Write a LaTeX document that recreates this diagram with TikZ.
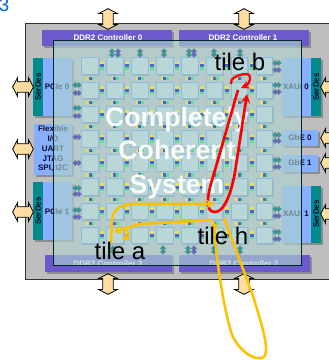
\documentclass[tikz,border=0pt]{standalone}
\usepackage{fontspec}
\setmainfont{Liberation Sans}
\usetikzlibrary{shapes.arrows,shadows}

\definecolor{chipgrey}{RGB}{190,190,190}
\definecolor{ddrpurple}{RGB}{106,90,205}
\definecolor{blockblue}{RGB}{135,175,255}
\definecolor{serdesteal}{RGB}{0,140,140}
\definecolor{overlayteal}{RGB}{175,212,208}
\definecolor{tilefill}{RGB}{205,222,228}
\definecolor{tileline}{RGB}{90,150,255}
\definecolor{padorange}{RGB}{255,221,160}
\definecolor{pathyellow}{RGB}{255,192,0}
\definecolor{linkyellow}{RGB}{235,235,70}
\definecolor{linkblue}{RGB}{60,75,200}
\definecolor{linkgreen}{RGB}{60,235,140}
\definecolor{labelnavy}{RGB}{10,10,50}

\tikzset{
	padarrow/.style={double arrow, draw=black, line width=0.6pt, fill=padorange, inner xsep=0pt, inner ysep=3.7pt, minimum height=15.5pt, double arrow head extend=3pt, double arrow tip angle=125},
	portarrow/.style={double arrow, draw=black!50, line width=0.2pt, fill=#1, fill opacity=0.75, inner xsep=0pt, inner ysep=1.2pt, minimum height=6.5pt, double arrow head extend=0.9pt},
	tilebox/.style={draw=tileline, line width=0.5pt, fill=tilefill, inner sep=0pt, minimum size=12.4pt, drop shadow={shadow xshift=1pt, shadow yshift=-1pt, fill=black!45, opacity=1}},
	ddrlabel/.style={text=white, font=\bfseries\fontsize{6}{7}\selectfont, inner sep=0pt},
	blocklabel/.style={text=labelnavy, font=\bfseries\fontsize{6}{7.3}\selectfont, inner sep=0pt, align=center},
	tilelabel/.style={text=black, font=\fontsize{18}{20}\selectfont, inner sep=0pt},
	redpath/.style={draw=red, line width=2pt, -stealth},
	yellowpath/.style={draw=pathyellow, line width=1.9pt, -stealth}
}

\newcommand{\chipblock}[5]{
	\fill[black!45] (#1+2,#2+2) rectangle (#3+2,#4+2);
	\fill[#5] (#1,#2) rectangle (#3,#4);
}

\begin{document}
\begin{tikzpicture}[x=0.75pt,y=-0.75pt]
	\useasboundingbox (0,0) rectangle (328,360);
	
	%NUMERO
	\node[anchor=east, inner sep=0pt, text=blue!60!cyan!90!black, font=\fontsize{14}{14}\selectfont] (pagenum) at (9.5,5) {3};
	
	%CHIP
	\draw[line width=0.75pt, fill=chipgrey, draw=black!80] (25.5,23.5) rectangle (340,279.5);
	
	%BLOCCHI
	\chipblock{42}{30}{172}{46}{ddrpurple}
	\chipblock{179}{30}{309}{46}{ddrpurple}
	\chipblock{45}{255}{172}{272}{ddrpurple}
	\chipblock{179}{255}{310}{272}{ddrpurple}
	\chipblock{33}{58}{43}{116}{serdesteal}
	\chipblock{43}{58}{72}{116}{blockblue}
	\chipblock{33}{182}{43}{240}{serdesteal}
	\chipblock{43}{182}{72}{240}{blockblue}
	\chipblock{34}{124}{72}{175}{blockblue}
	\chipblock{282}{58}{311}{116}{blockblue}
	\chipblock{311}{58}{321}{116}{serdesteal}
	\chipblock{282}{186}{311}{243}{blockblue}
	\chipblock{311}{186}{321}{243}{serdesteal}
	\chipblock{282}{130}{318}{146}{blockblue}
	\chipblock{282}{155}{318}{172}{blockblue}
	
	%SCRITTE
	\node[ddrlabel] (ddr0) at (108,38) {DDR2 Controller 0};
	\node[ddrlabel] (ddr1) at (243,38) {DDR2 Controller 1};
	\node[ddrlabel] (ddr3) at (108,264) {DDR2 Controller 3};
	\node[ddrlabel] (ddr2) at (244,264) {DDR2 Controller 2};
	\node[blocklabel, rotate=90] (serdes0) at (38,87) {SerDes};
	\node[blocklabel, rotate=90] (serdes1) at (38,211) {SerDes};
	\node[blocklabel, rotate=90] (serdes2) at (316,87) {SerDes};
	\node[blocklabel, rotate=90] (serdes3) at (316,214) {SerDes};
	\node[blocklabel] (pcie0) at (57,87) {PCIe 0};
	\node[blocklabel] (pcie1) at (57,212) {PCIe 1};
	\node[blocklabel] (flexio) at (53,149) {Flexible\\I/O\\UART\\JTAG\\SPI, I2C};
	\node[blocklabel] (xaui0) at (296,87) {XAUI 0};
	\node[blocklabel] (xaui1) at (296,214) {XAUI 1};
	\node[blocklabel] (gbe0) at (300,138) {GbE 0};
	\node[blocklabel] (gbe1) at (300,163) {GbE 1};
	
	%FRECCE ESTERNE
	\node[padarrow, rotate=90] (padtop0) at (108,19) {};
	\node[padarrow, rotate=90] (padtop1) at (244,19) {};
	\node[padarrow, rotate=90] (padbot0) at (108,284) {};
	\node[padarrow, rotate=90] (padbot1) at (244,284) {};
	\foreach \py/\pname in {87/a,149/b,212/c}
		\node[padarrow] (padleft\pname) at (23,\py) {};
	\foreach \py/\pname in {87/a,138/b,163/c,214/d}
		\node[padarrow] (padright\pname) at (331,\py) {};
	
	%GRIGLIA
	\foreach \col in {0,...,7}
		\foreach \row in {0,...,7}{
			\pgfmathsetmacro{\tx}{90+24.9*\col}
			\pgfmathsetmacro{\ty}{66+24.2*\row}
			\node[tilebox] (tile\col\row) at (\tx,\ty) {};
		}
	
	%VELO
	\fill[overlayteal, opacity=0.62] (53,41) rectangle (301,265);
	\draw[line width=0.75pt, draw=black!70!teal] (53,41) rectangle (301,265);
	
	%COLLEGAMENTI
	\begin{scope}[fill opacity=0.8]
		\foreach \col in {0,...,7}
			\foreach \row in {0,...,7}{
				\pgfmathsetmacro{\tx}{90+24.9*\col}
				\pgfmathsetmacro{\ty}{66+24.2*\row}
				\ifnum\col<7
					\fill[linkyellow] (\tx+10.4,\ty-4) rectangle ++(4,2.5);
					\fill[linkblue] (\tx+10.4,\ty-1.5) rectangle ++(4,3);
					\fill[linkgreen] (\tx+10.4,\ty+1.5) rectangle ++(4,2.5);
				\fi
				\ifnum\row<7
					\fill[linkyellow] (\tx-4,\ty+10.5) rectangle ++(2.5,3.2);
					\fill[linkblue] (\tx-1.5,\ty+10.5) rectangle ++(3,3.2);
					\fill[linkgreen] (\tx+1.5,\ty+10.5) rectangle ++(2.5,3.2);
				\fi
			}
	\end{scope}
	
	%PORTE
	\foreach \px/\pcol in {112/serdesteal,118/linkblue,140/serdesteal,164/serdesteal,189/serdesteal,194/linkblue,214/serdesteal,240/serdesteal}
		\node[portarrow=\pcol, rotate=90] (porttop\px) at (\px,53) {};
	\foreach \px/\pcol in {113/serdesteal,163/serdesteal,188/serdesteal,194/linkblue,214/serdesteal,240/serdesteal}
		\node[portarrow=\pcol, rotate=90] (portbot\px) at (\px,250) {};
	\foreach \py/\pcol in {85/serdesteal,93/linkblue,108/serdesteal,116/linkblue,137/linkblue,163/linkblue,188/serdesteal,194/linkblue,210/serdesteal,217/linkblue}
		\node[portarrow=\pcol] (portleft\py) at (77,\py) {};
	\foreach \py/\pcol in {63/serdesteal,70/linkblue,85/serdesteal,92/linkblue,135/serdesteal,141/linkblue,160/serdesteal,167/linkblue,209/serdesteal,216/linkblue,232/serdesteal,239/linkblue}
		\node[portarrow=\pcol] (portright\py) at (277,\py) {};
	
	\node[text=white, opacity=0.93, font=\bfseries\fontsize{20}{25}\selectfont, align=center, inner sep=0pt] (system) at (177,153) {Completely\\Coherent\\System};
	
	%PERCORSI
	\draw[redpath] (238,90) -- (215,170) .. controls (207,195) and (204,212) .. (215,212) .. controls (225,212) and (232,190) .. (235,172) -- (247,94);
	\draw[redpath, line width=1.7pt] (231,84) .. controls (229,78) and (240,74) .. (246,74) .. controls (253,74) and (250,84) .. (241,88);
	
	\draw[yellowpath] (111,243) -- (112,220) .. controls (113,208) and (122,204) .. (135,204) -- (215,204);
	\draw[yellowpath] (212,220) -- (140,224) -- (113,232);
	\draw[yellowpath, line width=1.6pt] (123,228) .. controls (130,230) and (129,236) .. (122,240);
	\draw[yellowpath] (224,218) -- (252,293) .. controls (262,325) and (270,350) .. (264,357) .. controls (256,362) and (240,352) .. (232,335) .. controls (224,310) and (216,260) .. (214,221);
	
	\node[tilelabel] (tileb) at (240,62) {tile b};
	\node[tilelabel] (tilea) at (120,251) {tile a};
	\node[tilelabel] (tileh) at (223,236) {tile h};
\end{tikzpicture}
\end{document}
